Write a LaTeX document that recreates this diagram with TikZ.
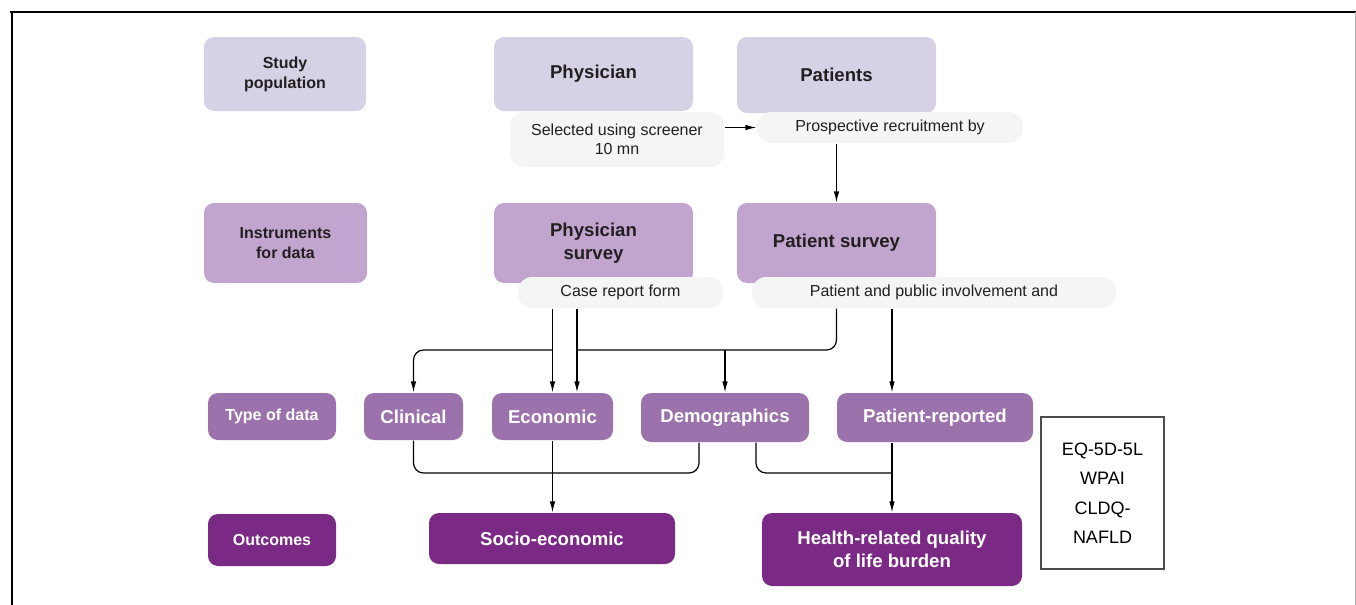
\documentclass[tikz,border=0pt]{standalone}
\usepackage{fontspec}
\setmainfont{Liberation Sans}
\usepackage{tikz}
\usetikzlibrary{shapes, arrows, arrows.meta, positioning, calc}
\definecolor{popfill}{HTML}{D7D1E5}
\definecolor{instfill}{HTML}{C2A5CF}
\definecolor{typefill}{HTML}{9B72AC}
\definecolor{outfill}{HTML}{7A2A84}
\definecolor{notefill}{HTML}{F5F5F5}
\definecolor{textdark}{HTML}{231F20}
\tikzset{box/.style={rectangle, rounded corners=5pt, inner sep=0pt, align=center},
         lvla/.style={box, fill=popfill, text=textdark},
         lvlb/.style={box, fill=instfill, text=textdark},
         lvlc/.style={box, fill=typefill, text=white},
         lvld/.style={box, fill=outfill, text=white},
         labelfont/.style={font=\fontsize{8}{10}\selectfont\bfseries},
         headfont/.style={font=\fontsize{9.3}{11.5}\selectfont\bfseries},
         note/.style={rectangle, rounded corners=7pt, fill=notefill, text=textdark, inner sep=0pt,
                      align=center, font=\fontsize{8}{9.5}\selectfont},
         >={Latex[length=5.5pt, width=2.8pt]}}

\begin{document}
\begin{tikzpicture}[x=0.5pt, y=-0.5pt, semithick]
    \useasboundingbox (0,0) rectangle (1356,605);
    % frame
    \draw[line width=1pt] (10,12) -- (1356,12);
    \draw[line width=1pt] (11.5,12) -- (11.5,605);
    \draw[gray!60, thin] (1355,12) -- (1355,605);

    % study population
    \node[lvla, labelfont, minimum width=81pt, minimum height=37pt] (studypop) at (285,74) {Study\\population};
    \node[lvla, headfont, minimum width=99.5pt, minimum height=37pt] (phys) at (593.5,74) {Physician};
    \node[lvla, headfont, minimum width=99.5pt, minimum height=38pt] (pat) at (836.5,75) {Patients};
    \node[note, minimum width=107pt, minimum height=27.5pt] (screener) at (617,139.5) {Selected using screener\\10 mn};
    \node[note, minimum width=133pt, minimum height=15.5pt] (recruit) at (890,127.5) {Prospective recruitment by};

    % instruments
    \node[lvlb, labelfont, minimum width=81.5pt, minimum height=40pt] (instr) at (285.5,243) {Instruments\\for data};
    \node[lvlb, headfont, minimum width=99.5pt, minimum height=40pt] (physsurv) at (593.5,243) {Physician\\survey};
    \node[lvlb, headfont, minimum width=99.5pt, minimum height=40pt] (patsurv) at (836.5,243) {Patient survey};
    \node[note, minimum width=102.5pt, minimum height=15.5pt] (crf) at (620.5,292.5) {Case report form};
    \node[note, minimum width=182pt, minimum height=15.5pt] (ppi) at (934,292.5) {Patient and public involvement and};

    % type of data
    \node[lvlc, labelfont, minimum width=64pt, minimum height=23.5pt] (typedata) at (272,416.5) {Type of data};
    \node[lvlc, headfont, minimum width=49.5pt, minimum height=23.5pt] (clin) at (413.5,416.5) {Clinical};
    \node[lvlc, headfont, minimum width=60.5pt, minimum height=23.5pt] (econ) at (552.5,416.5) {Economic};
    \node[lvlc, headfont, minimum width=84pt, minimum height=24.5pt] (demo) at (725,417.5) {Demographics};
    \node[lvlc, headfont, minimum width=98pt, minimum height=24.5pt] (prep) at (935,417.5) {Patient-reported};

    % outcomes
    \node[lvld, labelfont, minimum width=64pt, minimum height=26pt] (outc) at (272,540) {Outcomes};
    \node[lvld, headfont, minimum width=123pt, minimum height=25.5pt] (socio) at (552,538.5) {Socio-economic};
    \node[lvld, headfont, minimum width=130pt, minimum height=36.5pt] (hrql) at (892,549.5) {Health-related quality\\of life burden};
    \node[draw=black!70, line width=0.75pt, minimum width=61.5pt, minimum height=76pt, align=center,
          font=\fontsize{9}{14.75}\selectfont] (tools) at (1102.5,493) {EQ-5D-5L\\WPAI\\CLDQ-\\NAFLD};

    \coordinate (patbus) at (577,350);
    \coordinate (physbus) at (552.5,350);
    \coordinate (clinjoin) at (699,473);
    \coordinate (demoout) at (756,473);

    \draw[->] (screener.east |- recruit.west) -- (recruit.west);
    \draw[->] (recruit.south -| patsurv.north) -- (patsurv.north);

    \draw[->] (crf.south -| econ.north) -- (econ.north);
    \draw[->, rounded corners=5pt] (physbus) -| (clin.north);
    \draw[->] (crf.south -| patbus) -- (econ.north -| patbus);
    \draw[rounded corners=5pt] (ppi.south -| patsurv.south) |- (patbus);
    \draw[->] (demo.north |- patbus) -- (demo.north);
    \draw[->] (ppi.south -| hrql.north) -- (prep.north -| hrql.north);

    \draw[rounded corners=5pt] (clin.south) |- (clinjoin) -- (demo.south -| clinjoin);
    \draw[->] (econ.south) -- (socio.north -| econ.south);
    \draw[rounded corners=5pt] (demo.south -| demoout) -- (demoout) -- (demoout -| hrql.north);
    \draw[->] (prep.south -| hrql.north) -- (hrql.north);
\end{tikzpicture}
\end{document}
